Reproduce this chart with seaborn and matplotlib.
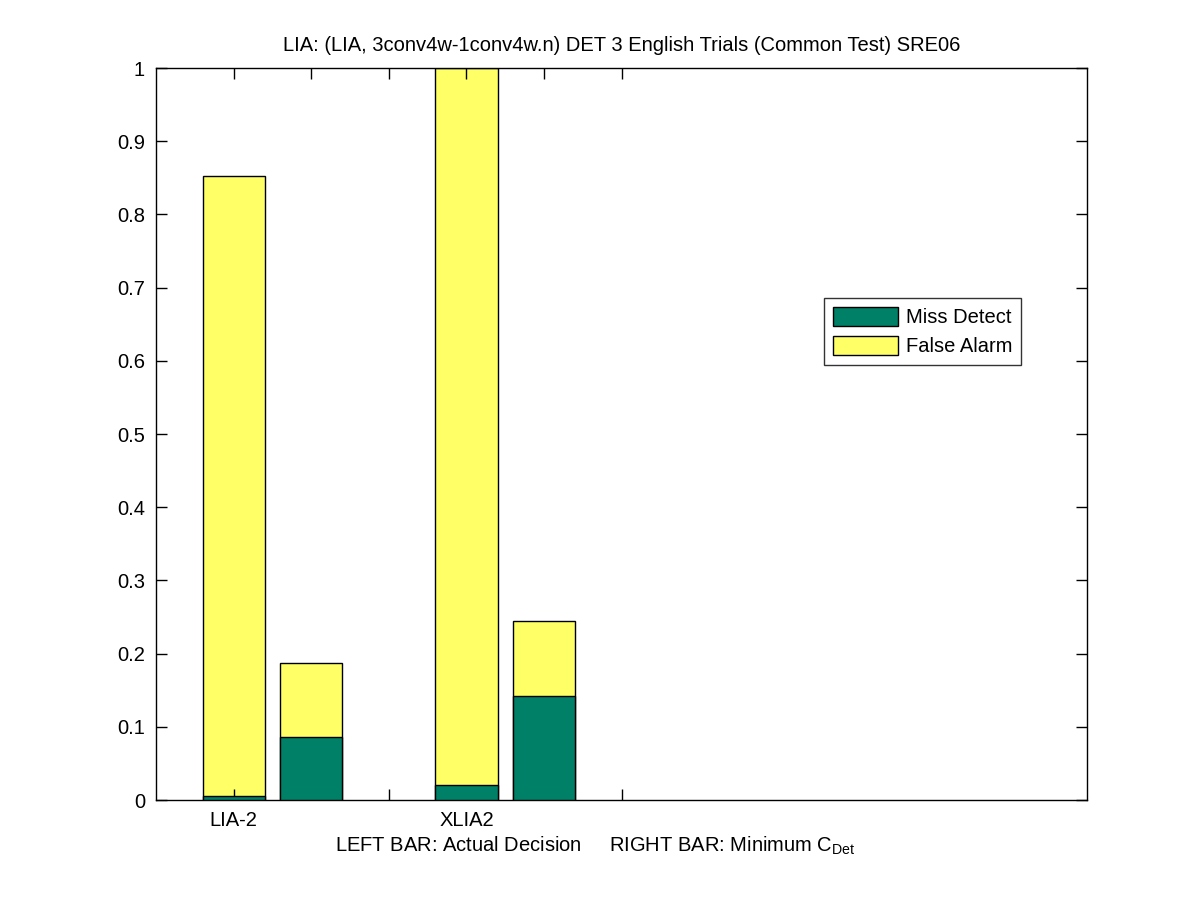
import numpy as np
import pandas as pd
import matplotlib
matplotlib.use('Agg')
import matplotlib.pyplot as plt
import seaborn as sns

# values (left bar = actual decision, right bar = min CDet)
positions = [1, 2, 4, 5]
miss_detect = [0.005, 0.086, 0.021, 0.142]
false_alarm_top = [0.852, 0.187, 1.0, 0.244]  # total bar height
tick_pos = [1, 2, 3, 4, 5, 6]
tick_labels = ['LIA-2', '', '', 'XLIA2', '', '']

df = pd.DataFrame({'pos': positions, 'miss': miss_detect, 'total': false_alarm_top})

sns.set_style('white')
plt.rcParams['font.family'] = ['Liberation Sans', 'DejaVu Sans']
plt.rcParams['text.color'] = 'black'
plt.rcParams['axes.labelcolor'] = 'black'
plt.rcParams['xtick.color'] = 'black'
plt.rcParams['ytick.color'] = 'black'

green = '#008066'
yellow = '#ffff66'
fs = 14.5

fig = plt.figure(figsize=(12.01, 9), dpi=100)
ax = fig.add_axes([0.13, 0.111, 0.7752, 0.8134])

sns.barplot(data=df, x='pos', y='total', native_scale=True, width=0.8,
            color=yellow, saturation=1, edgecolor='black', linewidth=1,
            label='False Alarm', ax=ax, zorder=2)
sns.barplot(data=df, x='pos', y='miss', native_scale=True, width=0.8,
            color=green, saturation=1, edgecolor='black', linewidth=1,
            label='Miss Detect', ax=ax, zorder=3)

ax.set_xlim(0, 12)
ax.set_ylim(0, 1)
ax.set_xticks(tick_pos)
ax.set_xticklabels(tick_labels)
ax.set_yticks(np.arange(0, 1.01, 0.1))
ax.set_yticklabels(['0'] + ['%.1f' % v for v in np.arange(0.1, 0.95, 0.1)] + ['1'])
ax.tick_params(direction='in', length=8, width=1, top=True, right=True,
               bottom=True, left=True, labelsize=fs, color='black',
               labelcolor='black')
ax.tick_params(axis='x', pad=8)
ax.tick_params(axis='y', pad=8)
ax.set_axisbelow(False)
for s in ax.spines.values():
    s.set_visible(True)
    s.set_color('black')
    s.set_linewidth(1)

ax.set_title('LIA: (LIA, 3conv4w-1conv4w.n) DET 3 English Trials (Common Test) SRE06',
             fontsize=fs, pad=12, color='black')
ax.set_xlabel('LEFT BAR: Actual Decision     RIGHT BAR: Minimum C$_{\\mathregular{Det}}$',
              fontsize=fs, color='black')
ax.xaxis.set_label_coords(0.4715, -0.047, transform=ax.transAxes)
ax.xaxis.label.set_va('top')
ax.set_ylabel('')

h, l = ax.get_legend_handles_labels()
order = [l.index('Miss Detect'), l.index('False Alarm')]
leg = ax.legend([h[i] for i in order], [l[i] for i in order],
                loc='upper left', bbox_to_anchor=(0.7175, 0.686),
                fontsize=fs, frameon=True, fancybox=False, edgecolor='black',
                handlelength=3.2, handleheight=1.1, borderpad=0.45,
                labelspacing=0.4, handletextpad=0.4, borderaxespad=0)
leg.get_frame().set_linewidth(1)

fig.savefig('out.png', dpi=100, facecolor='white')
